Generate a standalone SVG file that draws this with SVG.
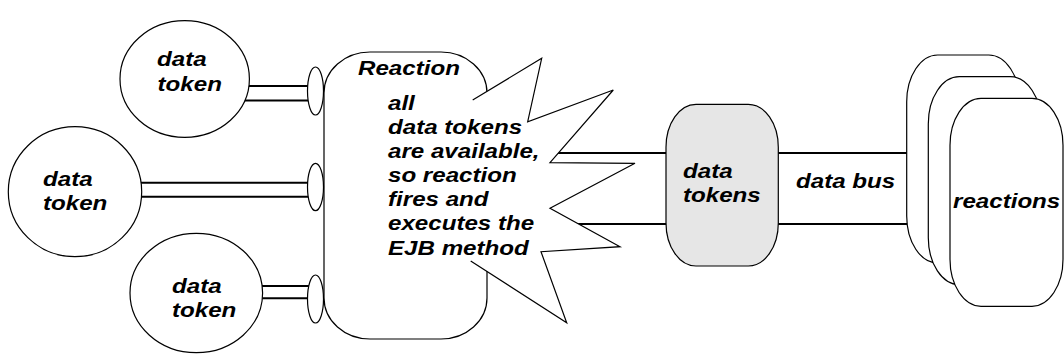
<svg xmlns="http://www.w3.org/2000/svg" width="1064" height="363" viewBox="0 0 1064 363">
  <style>
    .shape { fill: #ffffff; stroke: #000000; stroke-width: 1.2; }
    .gray { fill: #e6e6e6; stroke: #000000; stroke-width: 1.2; }
    .wire { stroke: #000000; stroke-width: 2; fill: none; }
    .outline { fill: none; stroke: #000000; stroke-width: 1.2; stroke-linejoin: miter; }
    text { font-family: "Liberation Sans", Arial, Helvetica, sans-serif; font-weight: bold; font-style: italic; font-size: 21px; fill: #000000; }
  </style>

  <g id="connectors">
    <line class="wire" x1="190" y1="86" x2="312" y2="86"/>
    <line class="wire" x1="190" y1="100.5" x2="312" y2="100.5"/>
    <line class="wire" x1="80" y1="182.7" x2="312" y2="182.7"/>
    <line class="wire" x1="80" y1="196.7" x2="312" y2="196.7"/>
    <line class="wire" x1="200" y1="286" x2="312" y2="286"/>
    <line class="wire" x1="200" y1="298.3" x2="312" y2="298.3"/>
    <line class="wire" x1="530" y1="153" x2="920" y2="153"/>
    <line class="wire" x1="530" y1="224" x2="920" y2="224"/>
  </g>

  <g id="token-top">
    <ellipse class="shape" cx="184.7" cy="79" rx="64.7" ry="58.3"/>
    <g transform="translate(157 0) scale(1.15 1)">
      <text x="0" y="66">data</text>
      <text x="0.5" y="91">token</text>
    </g>
  </g>
  <g id="token-middle">
    <ellipse class="shape" cx="75" cy="191.7" rx="66.7" ry="65"/>
    <g transform="translate(43 0) scale(1.15 1)">
      <text x="0" y="186">data</text>
      <text x="0" y="210">token</text>
    </g>
  </g>
  <g id="token-bottom">
    <ellipse class="shape" cx="196.3" cy="293" rx="66.3" ry="59.7"/>
    <g transform="translate(172 0) scale(1.15 1)">
      <text x="0" y="293">data</text>
      <text x="0" y="317">token</text>
    </g>
  </g>

  <g id="reaction">
    <rect class="shape" x="324" y="52" width="163" height="287" rx="46" ry="41"/>
    <ellipse class="shape" cx="315.5" cy="91" rx="8" ry="24"/>
    <ellipse class="shape" cx="315.5" cy="187" rx="8" ry="23.7"/>
    <ellipse class="shape" cx="315.5" cy="299" rx="8" ry="24"/>
    <g transform="translate(358 0) scale(1.15 1)">
      <text x="0" y="75">Reaction</text>
    </g>
  </g>

  <g id="burst">
    <polygon fill="#ffffff" stroke="none" points="472.7,100 541.7,58.3 527.7,121.7 613.3,90 550,162.7 635,163.3 550,208.3 620,246.7 541,251.7 566.7,322.7 470.7,261"/>
    <polyline class="outline" points="472.7,100 541.7,58.3 527.7,121.7 613.3,90 550,162.7 635,163.3 550,208.3 620,246.7 541,251.7 566.7,322.7 470.7,261"/>
    <g transform="translate(388 0) scale(1.15 1)">
      <text x="0" y="110">all</text>
      <text x="0" y="134.1">data tokens</text>
      <text x="0" y="158.2">are available,</text>
      <text x="0" y="182.3">so reaction</text>
      <text x="0" y="206.4">fires and</text>
      <text x="0" y="230.5">executes the</text>
      <text x="0" y="254.6">EJB method</text>
    </g>
  </g>

  <g id="data-tokens">
    <rect class="gray" x="666" y="104.3" width="112.3" height="161.7" rx="30" ry="43"/>
    <g transform="translate(683 0) scale(1.15 1)">
      <text x="0" y="178">data</text>
      <text x="0" y="202">tokens</text>
    </g>
  </g>

  <g id="data-bus-label">
    <g transform="translate(796 0) scale(1.15 1)">
      <text x="0" y="188">data bus</text>
    </g>
  </g>

  <g id="reactions">
    <rect class="shape" x="906.7" y="55" width="113" height="208" rx="31" ry="47"/>
    <rect class="shape" x="928.3" y="76.7" width="113" height="208" rx="31" ry="47"/>
    <rect class="shape" x="950" y="98.3" width="113" height="208" rx="31" ry="47"/>
    <g transform="translate(953 0) scale(1.15 1)">
      <text x="0" y="208">reactions</text>
    </g>
  </g>
</svg>
